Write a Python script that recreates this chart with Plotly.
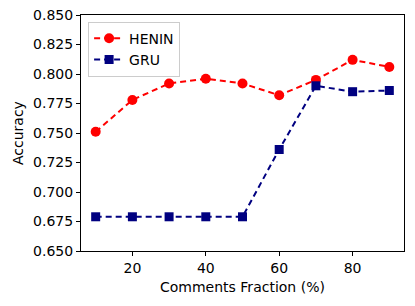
import plotly.graph_objects as go

fractions = [10, 20, 30, 40, 50, 60, 70, 80, 90]
henin = [0.751, 0.778, 0.792, 0.796, 0.792, 0.782, 0.795, 0.812, 0.806]
gru = [0.679, 0.679, 0.679, 0.679, 0.679, 0.736, 0.790, 0.785, 0.786]
y_ticks = [0.650, 0.675, 0.700, 0.725, 0.750, 0.775, 0.800, 0.825, 0.850]
x_ticks = [20, 40, 60, 80]

font = "DejaVu Sans, Arial, sans-serif"

fig = go.Figure()
fig.add_trace(go.Scatter(
    x=fractions, y=henin, name="HENIN", mode="lines+markers",
    line=dict(color="#ff0000", width=2, dash="6px,4px"),
    marker=dict(symbol="circle", size=10, color="#ff0000"),
))
fig.add_trace(go.Scatter(
    x=fractions, y=gru, name="GRU", mode="lines+markers",
    line=dict(color="#000080", width=2, dash="6px,4px"),
    marker=dict(symbol="square", size=9, color="#000080"),
))

fig.update_layout(
    width=415, height=306,
    margin=dict(l=81, r=11, t=15, b=55, autoexpand=False),
    paper_bgcolor="white", plot_bgcolor="white",
    font=dict(family=font, size=14, color="black"),
    showlegend=True,
    legend=dict(
        x=0.022, y=0.972, xanchor="left", yanchor="top",
        bgcolor="rgba(255,255,255,0.8)", bordercolor="#cccccc", borderwidth=1,
        font=dict(family=font, size=14),
        itemwidth=30, tracegroupgap=0,
    ),
    xaxis=dict(
        range=[6, 94], tickvals=x_ticks, ticktext=[str(v) for v in x_ticks],
        ticks="outside", ticklen=4, tickwidth=1, tickcolor="black",
        showline=True, linecolor="black", linewidth=1, mirror=True,
        showgrid=False, zeroline=False, automargin=False,
        tickfont=dict(family=font, size=14),
    ),
    yaxis=dict(
        range=[0.65, 0.85], tickvals=y_ticks, ticktext=[f"{v:.3f}" for v in y_ticks],
        ticks="outside", ticklen=4, tickwidth=1, tickcolor="black",
        showline=True, linecolor="black", linewidth=1, mirror=True,
        showgrid=False, zeroline=False, automargin=False,
        tickfont=dict(family=font, size=14),
    ),
    annotations=[
        dict(text="Comments Fraction (%)", xref="paper", yref="paper",
             x=0.5, y=-0.152, xanchor="center", yanchor="middle",
             showarrow=False, font=dict(family=font, size=14)),
        dict(text="Accuracy", xref="paper", yref="paper",
             x=-0.195, y=0.5, xanchor="center", yanchor="middle",
             textangle=-90, showarrow=False, font=dict(family=font, size=14)),
    ],
)

fig.write_html(
    "out.html",
    config={"displayModeBar": False},
    post_script="document.body.style.margin='0';document.body.style.padding='0';",
)
